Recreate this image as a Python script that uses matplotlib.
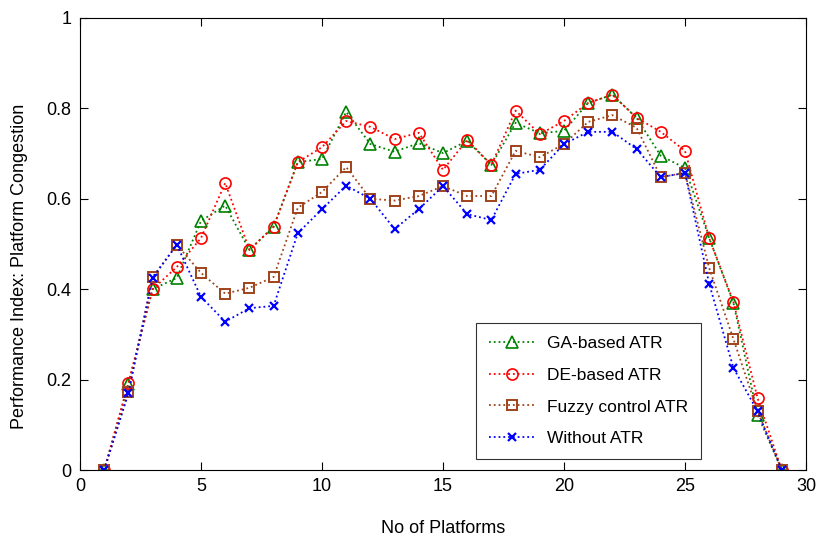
import numpy as np
import matplotlib.pyplot as plt

plt.rcParams['font.family'] = ['Liberation Sans', 'DejaVu Sans']

platforms = np.arange(1, 30)
ga_atr = [0, 0.19, 0.40, 0.425, 0.551, 0.585, 0.487, 0.538, 0.681, 0.688, 0.792, 0.721, 0.704, 0.723,
          0.701, 0.728, 0.675, 0.768, 0.745, 0.75, 0.812, 0.83, 0.779, 0.695, 0.668, 0.513, 0.37, 0.122, 0]
de_atr = [0, 0.193, 0.40, 0.449, 0.513, 0.635, 0.487, 0.538, 0.681, 0.714, 0.772, 0.759, 0.732, 0.746,
          0.664, 0.73, 0.675, 0.795, 0.743, 0.772, 0.812, 0.83, 0.779, 0.748, 0.706, 0.513, 0.372, 0.159, 0]
fuzzy_atr = [0, 0.173, 0.427, 0.498, 0.436, 0.39, 0.403, 0.427, 0.58, 0.615, 0.67, 0.6, 0.596, 0.606,
             0.628, 0.606, 0.606, 0.706, 0.692, 0.721, 0.77, 0.785, 0.757, 0.648, 0.657, 0.447, 0.29, 0.13, 0]
without_atr = [0, 0.17, 0.425, 0.498, 0.383, 0.328, 0.358, 0.363, 0.524, 0.577, 0.629, 0.6, 0.533, 0.577,
               0.628, 0.566, 0.553, 0.655, 0.664, 0.721, 0.748, 0.748, 0.71, 0.648, 0.657, 0.412, 0.226, 0.13, 0]

fig = plt.figure(figsize=(8.19, 5.43), dpi=100)
ax = fig.add_axes([0.0977, 0.1344, 0.8864, 0.8326])

ax.plot(platforms, ga_atr, ':', color='#008000', marker='^', markersize=8, mfc='none', mew=1.2, lw=1.3, label='GA-based ATR')
ax.plot(platforms, de_atr, ':', color='#ff0000', marker='o', markersize=8, mfc='none', mew=1.2, lw=1.3, label='DE-based ATR')
ax.plot(platforms, fuzzy_atr, ':', color='#a0421a', marker='s', markersize=7, mfc='none', mew=1.4, lw=1.3, label='Fuzzy control ATR')
ax.plot(platforms, without_atr, ':', color='#0000ff', marker='x', markersize=6, mew=1.6, lw=1.3, label='Without ATR')

ax.set_xlim(0, 30)
ax.set_ylim(0, 1)
ax.set_xticks([0, 5, 10, 15, 20, 25, 30])
ax.set_yticks([0, 0.2, 0.4, 0.6, 0.8, 1])
ax.set_yticklabels(['0', '0.2', '0.4', '0.6', '0.8', '1'])
ax.tick_params(direction='in', length=6, labelsize=13, top=True, right=True, pad=6)
for s in ax.spines.values():
    s.set_linewidth(0.8)

ax.set_xlabel('No of Platforms', fontsize=13, labelpad=18)
ax.set_ylabel('Performance Index: Platform Congestion', fontsize=13)
ax.yaxis.set_label_coords(-0.072, 0.45)

leg = ax.legend(loc='lower right', bbox_to_anchor=(0.855, 0.024), borderaxespad=0, fontsize=12.5,
                frameon=True, fancybox=False, edgecolor='black', borderpad=0.75, labelspacing=0.95,
                handlelength=2.6, handletextpad=0.7)
leg.get_frame().set_linewidth(0.8)

fig.savefig('out.png', dpi=100)
